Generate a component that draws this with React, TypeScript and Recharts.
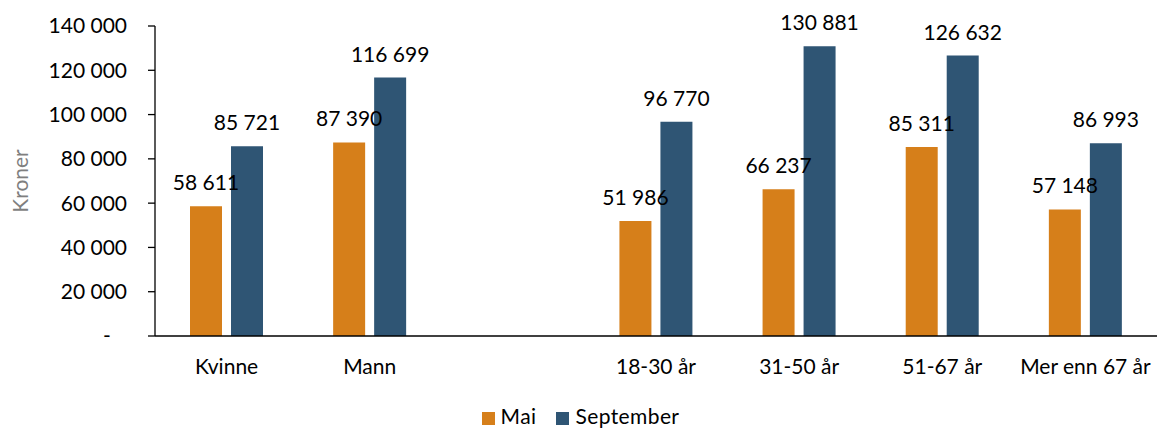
import {
  BarChart,
  Bar,
  XAxis,
  YAxis,
  Legend,
  LabelList,
} from "recharts";

const categories = ["Kvinne", "Mann", "", "18-30 år", "31-50 år", "51-67 år", "Mer enn 67 år"];
const mai = [58611, 87390, null, 51986, 66237, 85311, 57148];
const september = [85721, 116699, null, 96770, 130881, 126632, 86993];
const yTicks = [0, 20000, 40000, 60000, 80000, 100000, 120000, 140000];

const data = categories.map((cat, i) => ({
  cat,
  mai: mai[i],
  september: september[i],
}));

const FONT = "Lato, 'Open Sans', sans-serif";

// space as thousands separator, non-breaking so labels don't wrap
const fmt = (v: number | null | undefined) => {
  if (v === null || v === undefined) return "";
  if (v === 0) return "-\u00A0\u00A0\u00A0";
  return String(v).replace(/\B(?=(\d{3})+(?!\d))/g, "\u00A0");
};

export default function App() {
  return (
    <div style={{ width: 1172, height: 428, background: "#fff", fontFamily: FONT }}>
      <style>{"body{margin:0}"}</style>
      <BarChart
        width={1172}
        height={428}
        data={data}
        margin={{ top: 26, right: 15, left: 0, bottom: 0 }}
        barSize={32}
        barGap={9}
      >
        <XAxis
          dataKey="cat"
          tickLine={false}
          tickSize={0}
          tickMargin={23}
          height={67}
          axisLine={{ stroke: "#000", strokeWidth: 1.3 }}
          tick={{ fill: "#000", fontSize: 21, fontFamily: FONT }}
          interval={0}
        />
        <YAxis
          width={155}
          domain={[0, 140000]}
          ticks={yTicks}
          tickFormatter={fmt}
          tickSize={7}
          tickMargin={21}
          axisLine={{ stroke: "#000", strokeWidth: 1.3 }}
          tickLine={{ stroke: "#000", strokeWidth: 1.3 }}
          tick={{ fill: "#000", fontSize: 21, fontFamily: FONT }}
          label={{
            value: "Kroner",
            angle: -90,
            position: "insideLeft",
            offset: 21,
            style: { textAnchor: "middle", fill: "#7f7f7f", fontSize: 21, fontFamily: FONT },
          }}
        />
        <Legend
          verticalAlign="bottom"
          iconType="square"
          iconSize={13}
          wrapperStyle={{ fontSize: 21, fontFamily: FONT, paddingLeft: 12 }}
          formatter={(value) => (
            <span style={{ color: "#000", marginLeft: 2, marginRight: 10, letterSpacing: 0.4 }}>{value}</span>
          )}
        />
        <Bar dataKey="mai" name="Mai" fill="#D67F1A" isAnimationActive={false}>
          <LabelList
            dataKey="mai"
            position="top"
            offset={16}
            formatter={fmt}
            style={{ fill: "#000", fontSize: 21, fontFamily: FONT }}
          />
        </Bar>
        <Bar dataKey="september" name="September" fill="#2F5574" isAnimationActive={false}>
          <LabelList
            dataKey="september"
            position="top"
            offset={16}
            formatter={fmt}
            style={{ fill: "#000", fontSize: 21, fontFamily: FONT }}
          />
        </Bar>
      </BarChart>
    </div>
  );
}
